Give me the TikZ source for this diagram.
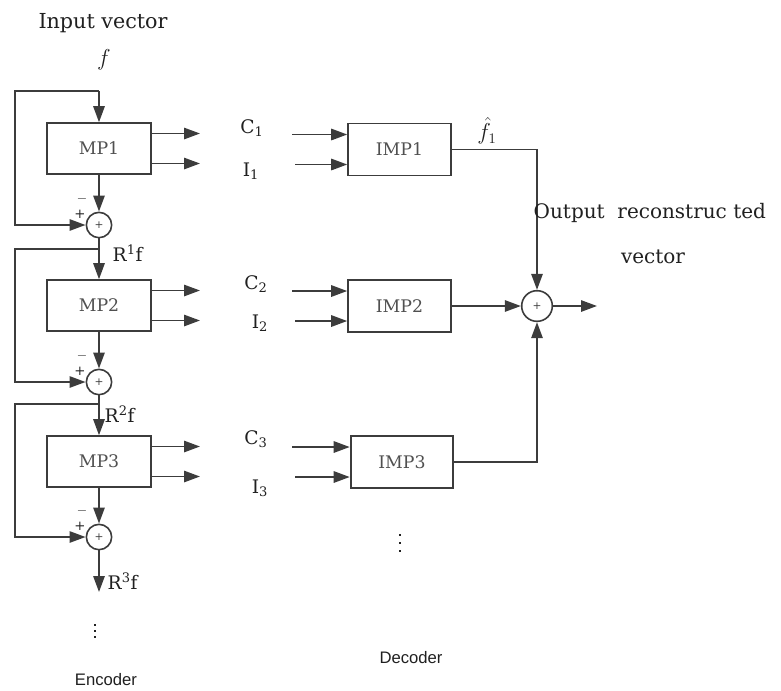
\documentclass[tikz,border=0pt]{standalone}
\usepackage{fontspec}
\setmainfont{DejaVu Serif}
\setsansfont{Liberation Sans}
\usetikzlibrary{arrows.meta,positioning}
\definecolor{wire}{HTML}{3C3C3C}
\definecolor{boxtext}{HTML}{505050}
\definecolor{ink}{HTML}{202020}

\begin{document}
\begin{tikzpicture}[
  >={Triangle[length=12pt,width=8.5pt]}, x=0.75pt, y=-0.75pt,
  block/.style={rectangle,draw=wire,line width=1.4pt,minimum width=78pt,minimum height=38pt,inner sep=0pt,text=boxtext,font=\fontsize{13}{15}\selectfont},
  adder/.style={circle,draw=wire,line width=1.2pt,minimum size=19pt,inner sep=0pt,text=wire,font=\fontsize{8}{9}\selectfont},
  link/.style={->,draw=wire,line width=1.4pt},
  plain/.style={-,draw=wire,line width=1.4pt},
  lbl/.style={text=ink,font=\fontsize{14}{16}\selectfont},
  sign/.style={text=ink,font=\fontsize{10}{12}\selectfont,inner sep=0pt},
  part/.style={text=ink,font=\sffamily\fontsize{12.5}{14}\selectfont},
  dot/.style={fill=ink,minimum size=1.6pt,inner sep=0pt,rectangle}]
\useasboundingbox (0,0) rectangle (781,690);
% encoder
\node[lbl,anchor=base,font=\fontsize{15.5}{18}\selectfont] (title) at (103,28) {Input vector};
\node[lbl,font=\fontsize{17}{20}\selectfont] (fin) at (104,60) {$f$};
\foreach \k/\yb/\ys/\yj in {1/148.5/225/91,2/305.5/382/249,3/461.5/537/404}{
  \node[block] (mp\k) at (99,\yb) {MP\k};
  \node[adder] (s\k) at (99,\ys) {+};
  \coordinate (j\k) at (99,\yj);
  \coordinate (l\k) at (15,\yj);
  \coordinate (oc\k) at (200,\yb-15);
  \coordinate (oi\k) at (200,\yb+15);
  \draw[link] (j\k) -- (mp\k);
  \draw[link] (j\k) -- (l\k) |- (s\k);
  \draw[link] (mp\k) -- (s\k);
  \draw[link] (mp\k.east |- oc\k) -- (oc\k);
  \draw[link] (mp\k.east |- oi\k) -- (oi\k);
  \node[sign] at ([shift={(-17,-26)}]s\k.center) {$-$};
  \node[sign] at ([shift={(-19,-11)}]s\k.center) {+};
}
\coordinate (r3) at (99,592);
\draw[plain] (s1) -- (j2);
\draw[plain] (s2) -- (j3);
\draw[link] (s3) -- (r3);
\node[lbl,anchor=west] (rf1) at (108,253) {R\textsuperscript{1}f};
\node[lbl,anchor=west] (rf2) at (100,414) {R\textsuperscript{2}f};
\node[lbl,anchor=west] (rf3) at (103,581) {R\textsuperscript{3}f};
\foreach \y in {625,631,637} \node[dot] at (95,\y) {};
\node[part] (enc) at (106,680) {Encoder};
% coefficients and indices
\node[lbl] (c1) at (252,128) {C\textsubscript{1}};
\node[lbl] (i1) at (251,171) {I\textsubscript{1}};
\node[lbl] (c2) at (256,284) {C\textsubscript{2}};
\node[lbl] (i2) at (260,323) {I\textsubscript{2}};
\node[lbl] (c3) at (256,439) {C\textsubscript{3}};
\node[lbl] (i3) at (260,488) {I\textsubscript{3}};
% decoder
\foreach \k/\yb/\xb in {1/149.5/399.5,2/306/399.5,3/462/402}{
  \node[block,minimum width=77pt,minimum height=39pt] (imp\k) at (\xb,\yb) {IMP\k};
  \coordinate (ic\k) at (292,\yb-15);
  \coordinate (ii\k) at (295,\yb+15);
  \draw[link] (ic\k) -- (ic\k -| imp\k.west);
  \draw[link] (ii\k) -- (ii\k -| imp\k.west);
}
\node[adder,minimum size=23pt] (osum) at (537,306) {+};
\coordinate (out) at (597,306);
\draw[link] (imp1) -| (osum);
\draw[link] (imp2) -- (osum);
\draw[link] (imp3) -| (osum);
\draw[link] (osum) -- (out);
\node[lbl,font=\fontsize{16}{18}\selectfont] (fhat) at (487,131) {$\hat{f}_1$};
\node[lbl,anchor=base west,font=\fontsize{15}{18}\selectfont] (outtxt) at (529,218) {Output\ \ reconstruc ted};
\node[lbl,anchor=base,font=\fontsize{15}{18}\selectfont] (vec) at (653,263) {vector};
\foreach \y in {535,543,551} \node[dot] at (400,\y) {};
\node[part] (dec) at (411,658) {Decoder};
\end{tikzpicture}
\end{document}
